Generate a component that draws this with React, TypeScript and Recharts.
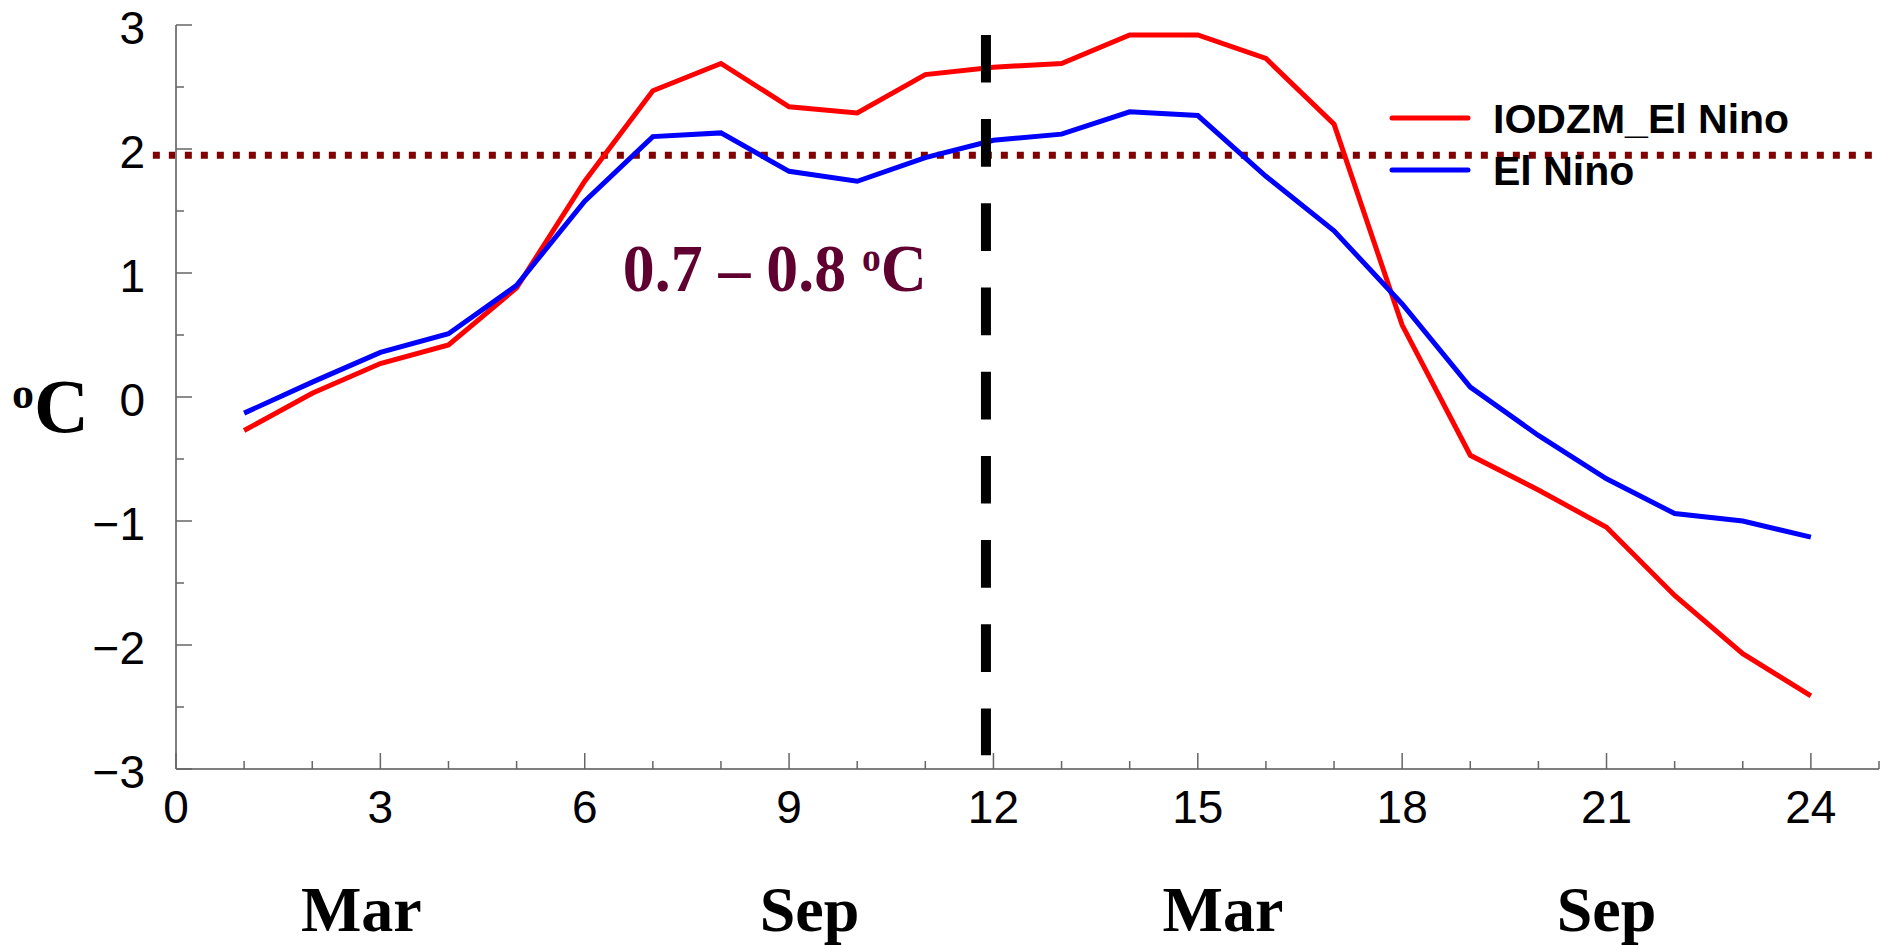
import React from 'react';
import { LineChart, Line, XAxis, YAxis, ReferenceLine, ReferenceDot, Legend } from 'recharts';

const months = [1, 2, 3, 4, 5, 6, 7, 8, 9, 10, 11, 12, 13, 14, 15, 16, 17, 18, 19, 20, 21, 22, 23, 24];
const iodzmElNino = [-0.27, 0.03, 0.27, 0.42, 0.88, 1.74, 2.47, 2.69, 2.34, 2.29, 2.6, 2.66, 2.69, 2.92, 2.92, 2.73, 2.2, 0.58, -0.47, -0.75, -1.05, -1.6, -2.07, -2.41];
const elNino = [-0.13, 0.12, 0.36, 0.51, 0.9, 1.58, 2.1, 2.13, 1.82, 1.74, 1.93, 2.07, 2.12, 2.3, 2.27, 1.78, 1.34, 0.75, 0.08, -0.31, -0.66, -0.94, -1.0, -1.13];

const xTicks = [0, 1, 2, 3, 4, 5, 6, 7, 8, 9, 10, 11, 12, 13, 14, 15, 16, 17, 18, 19, 20, 21, 22, 23, 24, 25];
const xLabelStep = 3;
const yTicks = [-3, -2.5, -2, -1.5, -1, -0.5, 0, 0.5, 1, 1.5, 2, 2.5, 3];
const monthLabels = ['Mar', 'Sep', 'Mar', 'Sep'];
const monthPositions = [2.72, 9.3, 15.37, 21.0];

const thresholdValue = 1.95;
const thresholdSpan = [-0.34, 25.02];
const dividerMonth = 11.89;
const dividerSpan = [2.92, -2.89];
const annotationText = '0.7 – 0.8 ';
const annotationX = 6.56;
const annotationY = 0.855;

const seriesNames = ['IODZM_El Nino', 'El Nino'];

const data = months.map((m, i) => ({ month: m, iodzm: iodzmElNino[i], elnino: elNino[i] }));

const AXIS = '#7f7f7f';
const TICK = '#666666';
const SANS = '"Liberation Sans", Arial, sans-serif';
const SERIF = '"Liberation Serif", "Times New Roman", serif';

const fmtY = (v: number) => (v < 0 ? '\u2212' + Math.abs(v) : String(v));

const BottomTick = (props: any) => {
  const { x, y, payload } = props;
  const v = payload.value;
  const major = v % xLabelStep === 0;
  return (
    <g>
      <line x1={x} y1={y} x2={x} y2={y - (major ? 16 : 8)} stroke={TICK} strokeWidth={1.5} />
      {major && v <= 24 ? (
        <text x={x} y={y + 54} textAnchor="middle" fontFamily={SANS} fontSize={46} fill="#000">
          {v}
        </text>
      ) : null}
    </g>
  );
};

const TopTick = (props: any) => {
  const { x, y, payload } = props;
  const major = payload.value % xLabelStep === 0;
  return <line x1={x} y1={y} x2={x} y2={y + (major ? 16 : 8)} stroke={TICK} strokeWidth={1.5} />;
};

const LeftTick = (props: any) => {
  const { x, y, payload } = props;
  const v = payload.value;
  const major = Number.isInteger(v);
  return (
    <g>
      <line x1={x} y1={y} x2={x + (major ? 16 : 8)} y2={y} stroke={TICK} strokeWidth={1.5} />
      {major ? (
        <text x={x - 31} y={y + 18.5} textAnchor="end" fontFamily={SANS} fontSize={46} fill="#000">
          {fmtY(v)}
        </text>
      ) : null}
    </g>
  );
};

const RightTick = (props: any) => {
  const { x, y, payload } = props;
  const major = Number.isInteger(payload.value);
  return <line x1={x} y1={y} x2={x - (major ? 16 : 8)} y2={y} stroke={TICK} strokeWidth={1.5} />;
};

const MonthTick = (props: any) => {
  const { x, y, index } = props;
  return (
    <text x={x} y={y + 102} textAnchor="middle" fontFamily={SERIF} fontWeight="bold" fontSize={64} fill="#000">
      {monthLabels[index]}
    </text>
  );
};

const DegLabel = (props: any) => {
  const vb = props.viewBox || { x: 0, y: 25, width: 176, height: 744 };
  const baseY = vb.y + vb.height / 2 + 35;
  return (
    <text x={vb.x + 12} y={baseY} fontFamily={SERIF} fontWeight="bold" fill="#000">
      <tspan fontSize={44} dy={-24}>o</tspan>
      <tspan fontSize={76} dy={24}>C</tspan>
    </text>
  );
};

const AnnotationLabel = (props: any) => {
  const vb = props.viewBox || { x: 0, y: 0, width: 0, height: 0 };
  const cx = vb.x + (vb.width || 0) / 2;
  const cy = vb.y + (vb.height || 0) / 2;
  return (
    <text
      x={cx}
      y={cy}
      fontFamily={SERIF}
      fontWeight="bold"
      fontSize={68}
      fill="#600030"
      textLength={304}
      lengthAdjust="spacingAndGlyphs"
    >
      {annotationText}
      <tspan fontSize={40} dy={-20}>o</tspan>
      <tspan fontSize={68} dy={20}>C</tspan>
    </text>
  );
};

const LegendContent = (props: any) => {
  const raw = props.payload || [];
  const payload = [...raw].sort((a: any, b: any) => seriesNames.indexOf(a.value) - seriesNames.indexOf(b.value));
  return (
    <svg width={480} height={110} style={{ overflow: 'visible', display: 'block' }}>
      {payload.map((entry: any, i: number) => {
        const ly = 28 + 52 * i;
        return (
          <g key={i}>
            <line x1={4} y1={ly} x2={80} y2={ly} stroke={entry.color} strokeWidth={5} strokeLinecap="round" />
            <text x={105} y={ly + 14.5} fontFamily={SANS} fontWeight="bold" fontSize={41} fill="#000">
              {entry.value}
            </text>
          </g>
        );
      })}
    </svg>
  );
};

export default function App() {
  return (
    <div style={{ position: 'absolute', left: 0, top: 0, width: 1880, height: 945, background: '#fff' }}>
      <LineChart width={1880} height={945} data={data} margin={{ top: 25, right: 1, left: 0, bottom: 0 }}>
        <XAxis
          xAxisId="axisA"
          dataKey="month"
          type="number"
          domain={[0, 25]}
          ticks={xTicks}
          interval={0}
          height={60}
          tickSize={0}
          tickMargin={0}
          tickLine={false}
          axisLine={{ stroke: AXIS, strokeWidth: 2 }}
          tick={<BottomTick />}
        />
        <XAxis
          xAxisId="axisB"
          dataKey="month"
          type="number"
          domain={[0, 25]}
          ticks={monthPositions}
          interval={0}
          height={116}
          tickSize={0}
          tickMargin={0}
          tickLine={false}
          axisLine={false}
          tick={<MonthTick />}
        />
        <XAxis
          xAxisId="axisTop"
          orientation="top"
          dataKey="month"
          type="number"
          domain={[0, 25]}
          ticks={xTicks}
          interval={0}
          height={0}
          tickSize={0}
          tickMargin={0}
          tickLine={false}
          axisLine={{ stroke: AXIS, strokeWidth: 2 }}
          tick={<TopTick />}
        />
        <YAxis
          yAxisId="left"
          type="number"
          domain={[-3, 3]}
          ticks={yTicks}
          interval={0}
          width={176}
          tickSize={0}
          tickMargin={0}
          tickLine={false}
          axisLine={{ stroke: AXIS, strokeWidth: 2 }}
          tick={<LeftTick />}
          label={{ content: (p: any) => <DegLabel {...p} /> }}
        />
        <YAxis
          yAxisId="right"
          orientation="right"
          type="number"
          domain={[-3, 3]}
          ticks={yTicks}
          interval={0}
          width={0}
          tickSize={0}
          tickMargin={0}
          tickLine={false}
          axisLine={{ stroke: AXIS, strokeWidth: 2 }}
          tick={<RightTick />}
        />
        <ReferenceLine
          xAxisId="axisA"
          yAxisId="left"
          segment={[
            { x: thresholdSpan[0], y: thresholdValue },
            { x: thresholdSpan[1], y: thresholdValue },
          ]}
          stroke="#7f0000"
          strokeWidth={7}
          strokeDasharray="7 9"
          ifOverflow="visible"
        />
        <Line
          xAxisId="axisA"
          yAxisId="left"
          type="linear"
          dataKey="iodzm"
          name={seriesNames[0]}
          stroke="#ff0000"
          strokeWidth={5}
          dot={false}
          activeDot={false}
          isAnimationActive={false}
        />
        <Line
          xAxisId="axisA"
          yAxisId="left"
          type="linear"
          dataKey="elnino"
          name={seriesNames[1]}
          stroke="#0000ff"
          strokeWidth={5}
          dot={false}
          activeDot={false}
          isAnimationActive={false}
        />
        <ReferenceLine
          xAxisId="axisA"
          yAxisId="left"
          segment={[
            { x: dividerMonth, y: dividerSpan[0] },
            { x: dividerMonth, y: dividerSpan[1] },
          ]}
          stroke="#000"
          strokeWidth={10}
          strokeDasharray="47.7 36.5"
          ifOverflow="visible"
        />
        <ReferenceDot
          xAxisId="axisA"
          yAxisId="left"
          x={annotationX}
          y={annotationY}
          r={0}
          fill="none"
          stroke="none"
          ifOverflow="visible"
          label={{ content: (p: any) => <AnnotationLabel {...p} /> }}
        />
        <Legend
          layout="vertical"
          align="center"
          verticalAlign="middle"
          itemSorter={null as any}
          wrapperStyle={{ left: 1388, top: 90, width: 480, height: 110 }}
          content={(p: any) => <LegendContent {...p} />}
        />
      </LineChart>
    </div>
  );
}
